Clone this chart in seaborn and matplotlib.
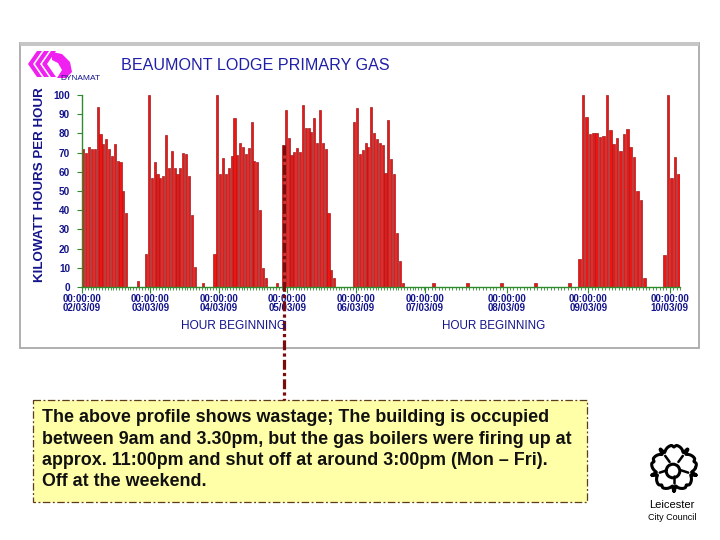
import numpy as np
import pandas as pd
import seaborn as sns
import matplotlib
matplotlib.use("Agg")
import matplotlib.pyplot as plt
from matplotlib.patches import Rectangle, Polygon, Circle
from matplotlib.ticker import MultipleLocator

# ------------------------------------------------------------------ data
title = "BEAUMONT LODGE PRIMARY GAS"
brand = "DYNAMAT"
y_label = "KILOWATT HOURS PER HOUR"
x_label = "HOUR BEGINNING"
tick_time = "00:00:00"
left_days = ["02/03/09", "03/03/09", "04/03/09", "05/03/09", "06/03/09"]
right_days = ["07/03/09", "08/03/09", "09/03/09", "10/03/09"]
y_ticks = [0, 10, 20, 30, 40, 50, 60, 70, 80, 90, 100]

# hourly kWh, hour 0 .. 23 of each day
kwh_02 = [72, 70, 73, 72, 72, 94, 79.5, 74.5, 77, 72, 68, 74.5,
          65.5, 65, 50, 38.5, 0, 0, 0, 3, 0, 0, 17, 100]
kwh_03 = [57, 65, 59, 57, 58, 79, 62, 71, 62, 59, 62, 70,
          69.5, 58, 37.5, 10.5, 0, 0, 2, 0, 0, 0, 17, 100]
kwh_04 = [59, 67, 59, 62, 68, 88, 68.7, 75, 73, 69.5, 72.5, 86,
          65.8, 65, 40, 10, 4.5, 0, 0, 0, 2, 0, 74, 92]
kwh_05 = [77.8, 68.8, 70.3, 72.2, 70.3, 94.8, 83, 83, 80.9, 88.2, 74.8, 92,
          75.2, 71.9, 38.7, 8.9, 4.9, 0, 0, 0, 0, 0, 0, 86]
kwh_06 = [93, 69.3, 71.4, 74.8, 73, 94, 80, 77, 74.8, 74, 59.5, 87,
          66.7, 58.9, 28, 13.5, 2, 0, 0, 0, 0, 0, 0, 0]
kwh_07 = [0, 0, 2.2, 0, 0, 0, 0, 0, 0, 0, 0, 0,
          2.2, 0, 0, 0, 0, 0, 0, 0, 0, 0, 2.2, 0]
kwh_08 = [0, 0, 0, 0, 0, 0, 0, 0, 2, 0, 0, 0,
          0, 0, 0, 0, 0, 0, 2.2, 0, 0, 14.6, 100, 88.7]
kwh_09 = [79.5, 80.4, 80.4, 78, 78.6, 100, 81.8, 74.5, 77.4, 71, 79.7, 82.3,
          72.7, 67.5, 50.2, 45.3, 4.5, 0, 0, 0, 0, 0, 16.7, 100]
kwh_10 = [57, 67.5, 58.7]

note_lines = [
    "The above profile shows wastage; The building is occupied",
    "between 9am and 3.30pm, but the gas boilers were firing up at",
    "approx. 11:00pm and shut off at around 3:00pm (Mon \u2013 Fri).",
    "Off at the weekend.",
]
council = ["Leicester", "City Council"]

# ------------------------------------------------------------------ style
W, H = 720, 540
NAVY = "#14148C"
GREEN = "#2E8B2E"
BAR = "#EE1515"
EDGE = "#A01E1E"

sns.set_theme(style="white")
plt.rcParams["font.family"] = ["Liberation Sans", "DejaVu Sans"]

fig = plt.figure(figsize=(7.2, 5.4), dpi=100)
fig.patch.set_facecolor("white")

# background overlay (pixel coordinates)
bg = fig.add_axes([0, 0, 1, 1], zorder=-5)
bg.set_xlim(0, W)
bg.set_ylim(H, 0)
bg.axis("off")
bg.add_patch(Rectangle((20, 43), 679, 305, fc="white", ec="#A9A9A9", lw=1.3))
bg.add_patch(Rectangle((20, 42), 679, 4, fc="#C6C6C6", ec="none"))


def px_axes(x0, x1, ytop, ybot):
    return fig.add_axes([x0 / W, 1 - ybot / H, (x1 - x0) / W, (ybot - ytop) / H])


axL = px_axes(82, 424, 95, 287)
axR = px_axes(425, 680, 95, 287)


def draw(ax, day_values, day_labels):
    vals = np.concatenate([np.asarray(v, float) for v in day_values])
    df = pd.DataFrame({"hour": np.arange(len(vals)) + 0.5, "kwh": vals})
    sns.barplot(data=df, x="hour", y="kwh", native_scale=True, width=0.72,
                color=BAR, edgecolor=EDGE, linewidth=0.5, saturation=1,
                errorbar=None, ax=ax)
    ax.set_xlim(0, len(vals))
    ax.set_ylim(0, 100)
    ax.set_facecolor("none")
    ax.set_xlabel("")
    ax.set_ylabel("")
    ax.set_xticks([24 * i for i in range(len(day_labels))])
    ax.set_xticklabels([f"{tick_time}\n{d}" for d in day_labels],
                       fontsize=7.0, fontweight="bold", color=NAVY,
                       linespacing=0.85)
    ax.xaxis.set_minor_locator(MultipleLocator(1))
    ax.tick_params(axis="x", which="major", bottom=True, length=4.5,
                   width=0.8, color=GREEN, direction="out", pad=0.5)
    ax.tick_params(axis="x", which="minor", bottom=True, length=2.5,
                   width=0.6, color=GREEN, direction="out")
    for s in ("top", "right"):
        ax.spines[s].set_visible(False)
    ax.spines["bottom"].set_color(GREEN)
    ax.spines["bottom"].set_linewidth(1.0)
    ax.grid(False)


draw(axL, [kwh_02, kwh_03, kwh_04, kwh_05, kwh_06], left_days)
draw(axR, [kwh_07, kwh_08, kwh_09, kwh_10], right_days)

axL.set_yticks(y_ticks)
axL.set_yticklabels([str(v) for v in y_ticks], fontsize=7.2,
                    fontweight="bold", color=NAVY)
axL.tick_params(axis="y", left=True, length=3.5, width=0.8, color=GREEN,
                direction="out", pad=5)
axL.spines["left"].set_color(GREEN)
axL.spines["left"].set_linewidth(1.0)
axR.spines["left"].set_visible(False)
axR.set_yticks([])

# foreground overlay (pixel coordinates)
fg = fig.add_axes([0, 0, 1, 1], zorder=5)
fg.set_xlim(0, W)
fg.set_ylim(H, 0)
fg.axis("off")
fg.patch.set_visible(False)

fg.text(121, 66, title, fontsize=11.6, color="#1E1EA8", ha="left", va="center")
fg.text(40, 185, y_label, fontsize=9.6, fontweight="bold", color=NAVY,
        rotation=90, ha="center", va="center")
fg.text(234, 326, x_label, fontsize=8.6, color=NAVY, ha="center", va="center")
fg.text(494, 326, x_label, fontsize=8.4, color=NAVY, ha="center", va="center")

# DYNAMAT logo
MAG = "#F020F0"
for x0 in (28, 35, 42):
    fg.add_patch(Polygon([(x0 + 9, 51), (x0 + 14, 51), (x0 + 5, 64),
                          (x0 + 14, 77), (x0 + 9, 77), (x0, 64)],
                         closed=True, fc=MAG, ec="none"))
fg.add_patch(Polygon([(52, 52), (62, 54), (70, 62), (72, 72), (66, 78),
                      (57, 78), (62, 70), (58, 63), (52, 60)],
                     closed=True, fc=MAG, ec="none"))
fg.text(60, 79, brand, fontsize=6, color=NAVY, ha="left", va="center")

# annotation line
fg.plot([284, 284], [145, 400], color="#7A0C0C", lw=2.3,
        dashes=(3.1, 1.0, 1.0, 1.0), dash_capstyle="butt")

# note box
fg.add_patch(Rectangle((33, 400), 554, 102, fc="#FFFFA8", ec="#5C3B1E",
                       lw=0.9, ls=(0, (6, 2, 1.5, 2))))
for line, base in zip(note_lines, [422.5, 444.0, 465.0, 486.0]):
    fg.text(42, base, line, fontsize=12.9, fontweight="bold", color="#111111",
            ha="left", va="baseline")

# Leicester City Council logo
cx, cy = 674, 468
theta = np.linspace(0, 2 * np.pi, 2881)
phi = theta - np.pi / 2
b = np.abs(np.cos(5 * phi / 2)) ** 0.5
psi = np.angle(np.exp(1j * 5 * phi)) / 5
r = (13 + 10 * b - 2.0 * np.exp(-(psi / 0.07) ** 2)
     + 9 * np.exp(-((np.abs(psi) - np.pi / 5) / 0.05) ** 2))
fg.plot(cx + r * np.cos(theta), cy - r * np.sin(theta), color="black", lw=2.2)
for k in range(5):
    a = np.pi / 2 + np.pi / 5 + 2 * np.pi * k / 5
    fg.plot([cx + 7.5 * np.cos(a), cx + 15 * np.cos(a)],
            [cy - 7.5 * np.sin(a), cy - 15 * np.sin(a)], color="black", lw=1.8)
fg.add_patch(Circle((cx - 1, cy + 3), 6.8, fc="white", ec="black", lw=2.2))
fg.text(672, 505, council[0], fontsize=8, color="black", ha="center", va="center")
fg.text(672, 517, council[1], fontsize=6.5, color="black", ha="center", va="center")

fig.savefig("out.png", dpi=100, facecolor="white")
